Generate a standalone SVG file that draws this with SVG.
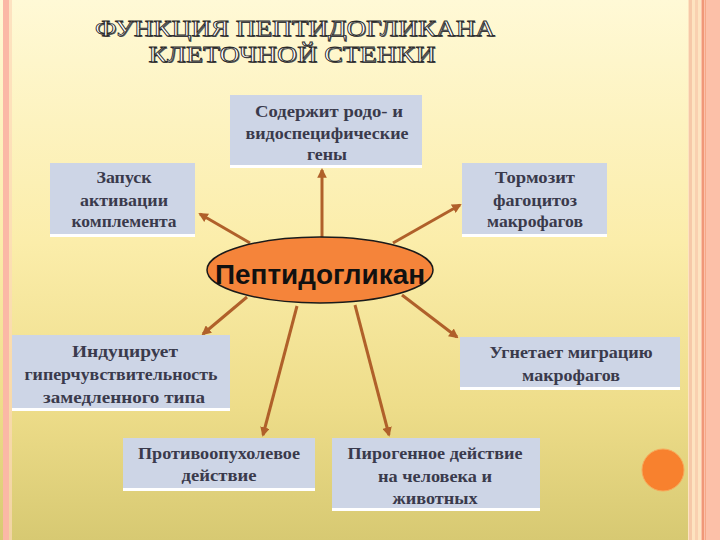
<svg xmlns="http://www.w3.org/2000/svg" width="720" height="540" viewBox="0 0 720 540">
<defs>
<linearGradient id="bg" x1="0" y1="0" x2="0" y2="1">
<stop offset="0" stop-color="#FFF9D6"/>
<stop offset="0.45" stop-color="#FBEDAA"/>
<stop offset="0.75" stop-color="#EEDD8A"/>
<stop offset="1" stop-color="#D7C972"/>
</linearGradient>
<marker id="ah" viewBox="0 0 10 10" refX="8" refY="5" markerWidth="3.2" markerHeight="3.2" orient="auto" markerUnits="strokeWidth">
<path d="M0,0 L10,5 L0,10 z" fill="#B0602A"/>
</marker>
<style>
.box{fill:#CDD5E6}
.ul{fill:#FFFFFF}
.t{font-family:"Liberation Serif","DejaVu Serif",serif;font-weight:bold;font-size:16px;fill:#3A3A4C;text-anchor:middle}
.c{stroke:#B0602A;stroke-width:3;fill:none;marker-end:url(#ah)}
.title{font-family:"Liberation Serif","DejaVu Serif",serif;font-size:23px;text-anchor:middle}
.tsh{fill:#555}
.tfg{fill:#FFFFFF;stroke:#2A2A2A;stroke-width:0.8}
</style>
</defs>
<rect width="720" height="540" fill="url(#bg)"/>
<!-- left stripes -->
<rect x="3" y="0" width="6" height="540" fill="#FBB8A6"/>
<rect x="9" y="0" width="3" height="540" fill="#FCD8B8" opacity="0.7"/>
<!-- right stripes -->
<rect x="688" y="0" width="32" height="540" fill="#FDE3C0"/>
<rect x="689" y="0" width="3" height="540" fill="#F6C8A8"/>
<rect x="695" y="0" width="3" height="540" fill="#F9D0B0"/>
<rect x="701" y="0" width="19" height="540" fill="#FCC0A8"/>
<rect x="702" y="0" width="2" height="540" fill="#F09878"/>
<rect x="705" y="0" width="1" height="540" fill="#F4A888"/>

<g id="title">
<text class="title tsh" x="296" y="37" textLength="400" lengthAdjust="spacingAndGlyphs">ФУНКЦИЯ ПЕПТИДОГЛИКАНА</text>
<text class="title tfg" x="295" y="36" textLength="400" lengthAdjust="spacingAndGlyphs">ФУНКЦИЯ ПЕПТИДОГЛИКАНА</text>
<text class="title tsh" x="293" y="63" textLength="287" lengthAdjust="spacingAndGlyphs">КЛЕТОЧНОЙ СТЕНКИ</text>
<text class="title tfg" x="292" y="62" textLength="287" lengthAdjust="spacingAndGlyphs">КЛЕТОЧНОЙ СТЕНКИ</text>
</g>

<g id="connectors">
<line class="c" x1="322" y1="238" x2="322" y2="170"/>
<line class="c" x1="250" y1="243" x2="200" y2="214"/>
<line class="c" x1="393" y1="243" x2="460" y2="205"/>
<line class="c" x1="247" y1="297" x2="203" y2="334"/>
<line class="c" x1="402" y1="295" x2="457" y2="337"/>
<line class="c" x1="297" y1="306" x2="263" y2="435"/>
<line class="c" x1="355" y1="305" x2="389" y2="435"/>
</g>

<g id="center">
<ellipse cx="320" cy="270" rx="113" ry="33" fill="#F5843A" stroke="#1A1A1A" stroke-width="1.5"/>
<text x="320" y="284" font-family="'Liberation Sans',Arial,sans-serif" font-weight="bold" font-size="27" fill="#111" text-anchor="middle" textLength="210" lengthAdjust="spacingAndGlyphs">Пептидогликан</text>
</g>

<g id="n-top">
<rect class="box" x="230" y="95" width="192" height="70"/>
<rect class="ul" x="230" y="165" width="192" height="3"/>
<text class="t" x="329" y="117" textLength="148" lengthAdjust="spacingAndGlyphs">Содержит родо- и</text>
<text class="t" x="327" y="139" textLength="163" lengthAdjust="spacingAndGlyphs">видоспецифические</text>
<text class="t" x="327" y="160" textLength="40" lengthAdjust="spacingAndGlyphs">гены</text>
</g>

<g id="n-left">
<rect class="box" x="50" y="163" width="145" height="71"/>
<rect class="ul" x="50" y="234" width="145" height="3"/>
<text class="t" x="124" y="183" textLength="55" lengthAdjust="spacingAndGlyphs">Запуск</text>
<text class="t" x="124" y="206" textLength="88" lengthAdjust="spacingAndGlyphs">активации</text>
<text class="t" x="124" y="227" textLength="105" lengthAdjust="spacingAndGlyphs">комплемента</text>
</g>

<g id="n-right">
<rect class="box" x="462" y="163" width="145" height="71"/>
<rect class="ul" x="462" y="234" width="145" height="3"/>
<text class="t" x="535" y="183" textLength="80" lengthAdjust="spacingAndGlyphs">Тормозит</text>
<text class="t" x="535" y="206" textLength="84" lengthAdjust="spacingAndGlyphs">фагоцитоз</text>
<text class="t" x="535" y="227" textLength="96" lengthAdjust="spacingAndGlyphs">макрофагов</text>
</g>

<g id="n-lowleft">
<rect class="box" x="12" y="335" width="218" height="73"/>
<rect class="ul" x="12" y="408" width="218" height="3"/>
<text class="t" x="125" y="357" textLength="106" lengthAdjust="spacingAndGlyphs">Индуцирует</text>
<text class="t" x="121" y="380" textLength="193" lengthAdjust="spacingAndGlyphs">гиперчувствительность</text>
<text class="t" x="124" y="403" textLength="162" lengthAdjust="spacingAndGlyphs">замедленного типа</text>
</g>

<g id="n-lowright">
<rect class="box" x="460" y="337" width="220" height="50"/>
<rect class="ul" x="460" y="387" width="220" height="3"/>
<text class="t" x="571" y="358" textLength="163" lengthAdjust="spacingAndGlyphs">Угнетает миграцию</text>
<text class="t" x="571" y="381" textLength="98" lengthAdjust="spacingAndGlyphs">макрофагов</text>
</g>

<g id="n-bottom1">
<rect class="box" x="123" y="438" width="192" height="50"/>
<rect class="ul" x="123" y="488" width="192" height="3"/>
<text class="t" x="219" y="459" textLength="162" lengthAdjust="spacingAndGlyphs">Противоопухолевое</text>
<text class="t" x="219" y="481" textLength="75" lengthAdjust="spacingAndGlyphs">действие</text>
</g>

<g id="n-bottom2">
<rect class="box" x="332" y="438" width="208" height="70"/>
<rect class="ul" x="332" y="508" width="208" height="3"/>
<text class="t" x="435" y="459" textLength="175" lengthAdjust="spacingAndGlyphs">Пирогенное действие</text>
<text class="t" x="435" y="482" textLength="114" lengthAdjust="spacingAndGlyphs">на человека и</text>
<text class="t" x="435" y="504" textLength="85" lengthAdjust="spacingAndGlyphs">животных</text>
</g>

<circle cx="663" cy="470" r="21" fill="#F8812E" stroke="#F8A85A" stroke-width="1"/>
</svg>
